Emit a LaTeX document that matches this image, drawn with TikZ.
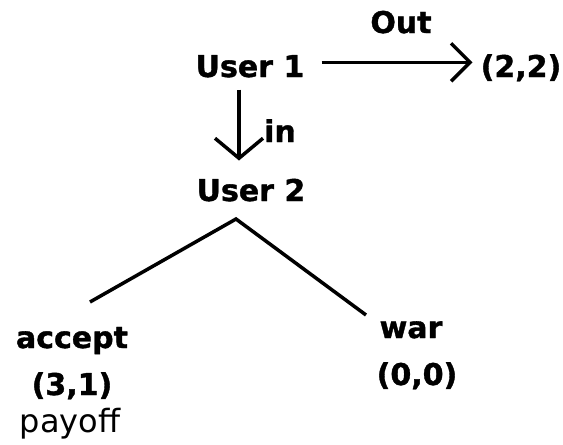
\documentclass[tikz,border=0pt]{standalone}
\usepackage{fontspec}
\setmainfont{DejaVu Sans}[BoldFeatures={FakeBold=1.2}]
\usetikzlibrary{arrows.meta}
\begin{document}
\begin{tikzpicture}[x=1pt,y=-1pt,
  lbl/.style={inner sep=0pt,anchor=base,font=\fontsize{30}{30}\selectfont\bfseries},
  plain/.style={inner sep=0pt,anchor=base,font=\fontsize{32}{32}\selectfont},
  edge/.style={line width=3.5pt,black},
  arrh/.style={line width=3.5pt,-{Straight Barb[length=19pt,width=38pt,line width=3.5pt]}},
  arrv/.style={line width=3.5pt,-{Straight Barb[length=20pt,width=48pt,line width=3.5pt]}}]
\useasboundingbox (0,0) rectangle (563,445);
\node[lbl] (out) at (401,33) {Out};
\node[lbl] (u1) at (250,77) {User 1};
\node[lbl] (p22) at (521,77) {(2,2)};
\node[lbl] (in) at (280,142) {in};
\node[lbl] (u2) at (251,201) {User 2};
\node[lbl] (acc) at (72,348) {accept};
\node[lbl] (p31) at (72,395) {(3,1)};
\node[plain] (pay) at (70,432) {payoff};
\node[lbl] (war) at (411,338) {war};
\node[lbl] (p00) at (417,385) {(0,0)};
\coordinate (apex) at (236,219);
\coordinate (lend) at (90,302);
\coordinate (rend) at (366,315);
\draw[arrh] ([xshift=17pt,yshift=4pt]u1.east) -- ([xshift=-8pt,yshift=4pt]u1.east -| p22.west);
\draw[arrv] ([yshift=-12pt]u1.south -| 239,0) -- ([yshift=18pt]u2.north -| 239,0);
\draw[edge] (lend) -- (apex) -- (rend);
\end{tikzpicture}
\end{document}
